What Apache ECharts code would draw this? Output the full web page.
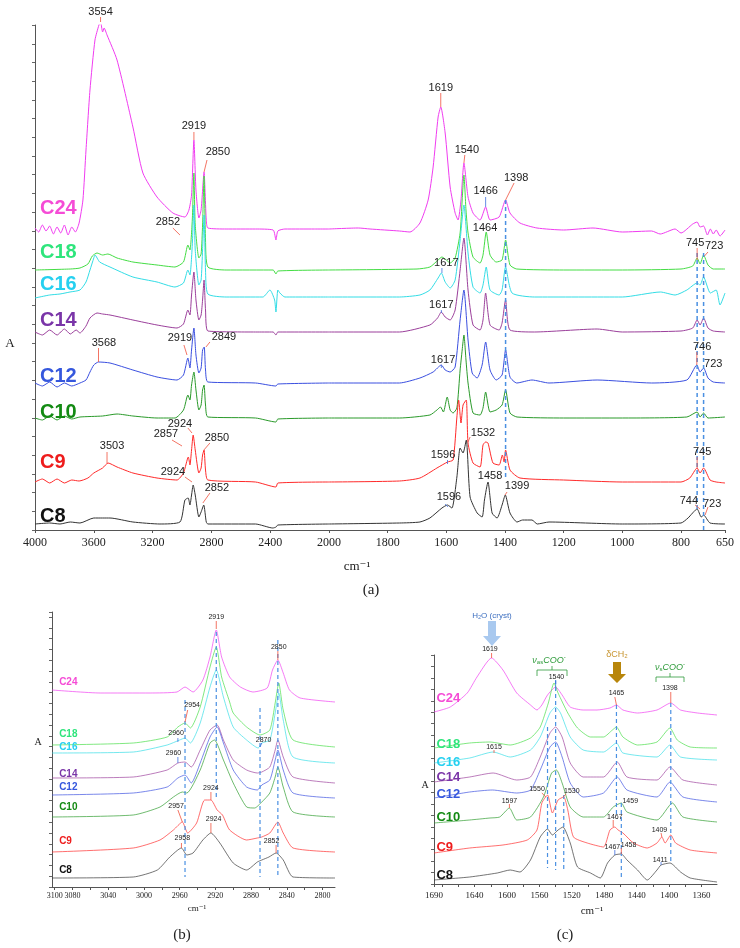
<!DOCTYPE html>
<html>
<head>
<meta charset="utf-8">
<script src="https://cdn.jsdelivr.net/npm/echarts@6/dist/echarts.min.js"></script>
<style>
  html, body { margin: 0; background: #fff; }
  #chart { width: 740px; height: 948px; }
</style>
</head>
<body>
<div id="chart"></div>
<script>
// samples, top to bottom
const samples = ['C24', 'C18', 'C16', 'C14', 'C12', 'C10', 'C9', 'C8']
const lineColors = ['#f03cf0', '#44dd44', '#33dde6', '#9b3f9b', '#3a4fe0', '#2a9a2a', '#ff2a2a', '#333333']
const labelColors = ['#f54bd6', '#2ee57c', '#26d0f0', '#7a35a8', '#3557dd', '#138a13', '#ee1c1c', '#111111']

// tick labels
const ticksA1 = [4000, 3600, 3200, 2800, 2400, 2000]
const ticksA2 = [1800, 1600, 1400, 1200, 1000, 800, 650]
const ticksB = [3100, 3080, 3040, 3000, 2960, 2920, 2880, 2840, 2800]
const ticksC = [1690, 1640, 1600, 1560, 1520, 1480, 1440, 1400, 1360]

// ---- panel (a): [cm-1, A] (stacked, arbitrary units)
const c24a = [[4000, 3.02], [3975, 2.98], [3950, 3.05], [3925, 2.99], [3900, 3.04], [3875, 2.96], [3850, 3.03], [3825, 2.97], [3800, 3.05], [3775, 2.95], [3750, 3.03], [3725, 2.98], [3700, 3.07], [3674, 3.30], [3653, 3.80], [3626, 4.40], [3592, 4.90], [3565, 5.05], [3554, 5.08], [3540, 4.98], [3530, 5.02], [3510, 4.95], [3442, 4.70], [3334, 4.03], [3266, 3.57], [3170, 3.33], [3062, 3.17], [2980, 3.13], [2953, 3.20], [2935, 3.35], [2919, 3.90], [2905, 3.40], [2885, 3.12], [2870, 3.20], [2850, 3.58], [2835, 3.10], [2824, 3.02], [2700, 3.01], [2500, 3.01], [2380, 3.00], [2361, 2.90], [2348, 2.99], [2300, 3.01], [2100, 3.01],
  [2000, 3.01], [1900, 3.02], [1860, 3.01], [1760, 2.99], [1724, 2.98], [1690, 3.07], [1662, 3.30], [1645, 3.63], [1628, 4.13], [1619, 4.23], [1604, 3.97], [1587, 3.43], [1570, 3.17], [1560, 3.10], [1550, 3.30], [1540, 3.67], [1526, 3.33], [1509, 3.17], [1485, 3.10], [1466, 3.23], [1451, 3.10], [1420, 3.13], [1398, 3.30], [1383, 3.17], [1349, 3.07], [1291, 3.02], [1200, 3.00], [1100, 3.02], [1000, 2.98], [900, 2.99], [871, 2.96], [820, 3.01], [800, 2.97], [760, 3.06], [745, 3.08], [735, 3.03], [723, 3.04], [710, 2.95], [700, 3.01], [690, 2.96], [680, 3.00], [667, 2.94], [650, 3.00]]
const c18a = [[4000, 2.60], [3760, 2.61], [3694, 2.62], [3640, 2.66], [3610, 2.74], [3578, 2.77], [3540, 2.75], [3504, 2.76], [3442, 2.72], [3334, 2.68], [3170, 2.65], [3048, 2.63], [2990, 2.68], [2960, 2.85], [2946, 2.80], [2930, 3.10], [2919, 3.57], [2910, 3.05], [2885, 2.72], [2870, 2.76], [2860, 3.05], [2850, 3.54], [2840, 2.90], [2824, 2.63], [2700, 2.60], [2380, 2.60], [2361, 2.56], [2348, 2.59],
  [2000, 2.60], [1700, 2.61], [1656, 2.63], [1628, 2.70], [1615, 2.73], [1600, 2.70], [1587, 2.67], [1570, 2.72], [1553, 2.97], [1546, 3.30], [1540, 3.55], [1533, 3.20], [1526, 2.97], [1509, 2.73], [1485, 2.67], [1475, 2.75], [1464, 2.98], [1451, 2.75], [1430, 2.68], [1410, 2.70], [1398, 2.90], [1383, 2.65], [1360, 2.61], [1200, 2.60], [1000, 2.60], [800, 2.61], [760, 2.64], [745, 2.72], [735, 2.66], [723, 2.75], [708, 2.65], [690, 2.61], [650, 2.61]]
const c16a = [[4000, 2.32], [3900, 2.35], [3830, 2.36], [3762, 2.38], [3694, 2.40], [3653, 2.48], [3626, 2.60], [3600, 2.72], [3592, 2.75], [3560, 2.68], [3490, 2.63], [3334, 2.53], [3170, 2.48], [3048, 2.43], [2990, 2.47], [2960, 2.60], [2946, 2.55], [2930, 2.85], [2919, 3.25], [2910, 2.80], [2885, 2.45], [2870, 2.50], [2860, 2.80], [2850, 3.15], [2840, 2.60], [2824, 2.36], [2700, 2.33], [2450, 2.33], [2402, 2.40], [2370, 2.30], [2361, 2.18], [2348, 2.40], [2334, 2.37], [2300, 2.33],
  [2000, 2.33], [1760, 2.33], [1690, 2.35], [1656, 2.40], [1628, 2.52], [1617, 2.57], [1604, 2.48], [1587, 2.42], [1570, 2.50], [1553, 2.90], [1540, 3.25], [1526, 2.77], [1509, 2.43], [1485, 2.37], [1475, 2.45], [1464, 2.63], [1451, 2.40], [1420, 2.35], [1410, 2.40], [1398, 2.63], [1376, 2.37], [1300, 2.33], [1000, 2.33], [870, 2.38], [820, 2.35], [780, 2.40], [745, 2.47], [735, 2.45], [723, 2.53], [700, 2.37], [680, 2.40], [667, 2.25], [650, 2.37]]
const c14a = [[4000, 1.98], [3950, 1.95], [3900, 2.00], [3850, 1.95], [3800, 2.01], [3760, 1.96], [3720, 2.00], [3694, 1.97], [3653, 2.04], [3626, 2.12], [3578, 2.17], [3540, 2.16], [3490, 2.15], [3334, 2.10], [3170, 2.05], [3034, 2.02], [2990, 2.06], [2960, 2.20], [2946, 2.15], [2935, 2.35], [2919, 2.58], [2905, 2.30], [2885, 2.10], [2870, 2.15], [2860, 2.30], [2850, 2.50], [2840, 2.20], [2824, 1.99], [2500, 1.98], [2380, 1.98], [2361, 1.95], [2348, 1.98],
  [2000, 1.98], [1760, 1.98], [1656, 2.05], [1630, 2.12], [1617, 2.18], [1604, 2.13], [1587, 2.10], [1570, 2.20], [1553, 2.60], [1540, 2.92], [1526, 2.40], [1509, 2.05], [1485, 2.00], [1475, 2.10], [1466, 2.37], [1451, 2.05], [1420, 2.00], [1410, 2.07], [1398, 2.30], [1383, 2.00], [1300, 1.98], [1086, 2.01], [1000, 1.98], [800, 1.99], [760, 2.02], [745, 2.10], [735, 2.05], [723, 2.12], [708, 2.02], [690, 1.99], [650, 1.98]]
const c12a = [[4000, 1.47], [3950, 1.44], [3900, 1.48], [3850, 1.43], [3800, 1.47], [3750, 1.44], [3694, 1.47], [3653, 1.50], [3626, 1.58], [3600, 1.65], [3568, 1.68], [3490, 1.67], [3334, 1.60], [3170, 1.53], [3034, 1.50], [2990, 1.55], [2960, 1.72], [2946, 1.62], [2935, 1.80], [2919, 2.02], [2905, 1.75], [2885, 1.57], [2870, 1.62], [2860, 1.80], [2849, 1.83], [2840, 1.60], [2824, 1.48], [2500, 1.47], [2361, 1.44], [2348, 1.46],
  [2000, 1.47], [1760, 1.47], [1690, 1.52], [1645, 1.58], [1617, 1.65], [1604, 1.60], [1587, 1.58], [1570, 1.63], [1553, 2.10], [1540, 2.40], [1526, 1.90], [1512, 1.57], [1495, 1.52], [1478, 1.65], [1466, 1.88], [1451, 1.60], [1430, 1.50], [1410, 1.55], [1398, 1.80], [1383, 1.53], [1360, 1.47], [1308, 1.50], [1250, 1.47], [1086, 1.50], [900, 1.47], [780, 1.50], [746, 1.65], [735, 1.58], [723, 1.62], [708, 1.52], [690, 1.48], [650, 1.47]]
const c10a = [[4000, 1.12], [3950, 1.10], [3900, 1.14], [3850, 1.10], [3800, 1.14], [3750, 1.11], [3694, 1.13], [3540, 1.14], [3442, 1.16], [3334, 1.14], [3170, 1.12], [3048, 1.12], [2990, 1.20], [2960, 1.35], [2946, 1.30], [2935, 1.45], [2919, 1.58], [2905, 1.40], [2885, 1.20], [2870, 1.25], [2860, 1.40], [2850, 1.45], [2840, 1.25], [2824, 1.13], [2500, 1.12], [2361, 1.08], [2348, 1.11],
  [2000, 1.12], [1760, 1.12], [1656, 1.15], [1632, 1.20], [1620, 1.23], [1610, 1.18], [1597, 1.33], [1587, 1.20], [1577, 1.17], [1564, 1.22], [1553, 1.60], [1546, 1.80], [1540, 1.95], [1533, 1.70], [1526, 1.47], [1509, 1.17], [1485, 1.15], [1475, 1.22], [1466, 1.38], [1451, 1.18], [1430, 1.20], [1410, 1.25], [1398, 1.40], [1383, 1.17], [1359, 1.13], [1200, 1.12], [1000, 1.12], [780, 1.13], [745, 1.18], [735, 1.13], [723, 1.17], [708, 1.12], [650, 1.13]]
const c9a = [[4000, 0.48], [3950, 0.51], [3900, 0.47], [3850, 0.51], [3800, 0.47], [3750, 0.50], [3700, 0.49], [3640, 0.52], [3600, 0.57], [3540, 0.62], [3503, 0.67], [3442, 0.63], [3334, 0.57], [3170, 0.52], [3034, 0.50], [2990, 0.57], [2957, 0.73], [2946, 0.65], [2935, 0.80], [2924, 0.95], [2910, 0.80], [2885, 0.57], [2870, 0.62], [2860, 0.75], [2850, 0.80], [2840, 0.60], [2824, 0.50], [2500, 0.48], [2361, 0.43], [2348, 0.47],
  [2000, 0.48], [1760, 0.49], [1690, 0.52], [1632, 0.62], [1596, 0.68], [1577, 0.70], [1564, 1.13], [1558, 1.30], [1550, 1.07], [1543, 1.25], [1532, 1.30], [1526, 0.87], [1509, 0.67], [1485, 0.63], [1475, 0.85], [1466, 0.88], [1458, 0.87], [1441, 0.67], [1420, 0.65], [1409, 0.75], [1403, 0.68], [1398, 0.80], [1383, 0.60], [1349, 0.52], [1200, 0.50], [1000, 0.48], [800, 0.48], [770, 0.52], [745, 0.62], [735, 0.57], [723, 0.62], [701, 0.50], [680, 0.48], [650, 0.47]]
const c8a = [[4000, 0.06], [3900, 0.07], [3830, 0.06], [3760, 0.08], [3694, 0.07], [3600, 0.12], [3540, 0.12], [3490, 0.12], [3334, 0.08], [3150, 0.06], [3014, 0.08], [2980, 0.30], [2958, 0.32], [2946, 0.25], [2935, 0.35], [2924, 0.45], [2910, 0.35], [2885, 0.13], [2870, 0.18], [2852, 0.25], [2835, 0.08], [2824, 0.06], [2500, 0.06], [2382, 0.02], [2360, 0.03], [2348, 0.05],
  [2000, 0.06], [1760, 0.07], [1690, 0.08], [1656, 0.12], [1615, 0.22], [1596, 0.25], [1581, 0.22], [1564, 0.53], [1553, 0.82], [1543, 0.77], [1532, 0.90], [1519, 0.33], [1495, 0.17], [1478, 0.13], [1470, 0.30], [1458, 0.48], [1444, 0.17], [1427, 0.12], [1410, 0.25], [1399, 0.35], [1383, 0.17], [1359, 0.08], [1340, 0.10], [1308, 0.10], [1290, 0.06], [1250, 0.08], [1000, 0.06], [800, 0.07], [776, 0.12], [745, 0.21], [731, 0.13], [723, 0.15], [701, 0.07], [650, 0.06]]

// ---- panel (b): CH stretching region
const c24b = [[3103, 1.97], [3049, 1.94], [2993, 1.94], [2963, 1.95], [2954, 2.00], [2945, 1.95], [2934, 2.07], [2926, 2.30], [2919, 2.57], [2913, 2.30], [2904, 2.10], [2892, 2.00], [2878, 1.95], [2862, 1.99], [2856, 2.17], [2850, 2.27], [2844, 2.14], [2837, 1.97], [2825, 1.89], [2786, 1.85]]
const c18b = [[3103, 1.42], [3012, 1.44], [2974, 1.50], [2962, 1.60], [2954, 1.64], [2948, 1.59], [2937, 1.80], [2926, 2.20], [2919, 2.40], [2913, 2.10], [2904, 1.85], [2900, 1.74], [2885, 1.60], [2870, 1.52], [2859, 1.57], [2853, 1.84], [2849, 2.04], [2844, 1.77], [2833, 1.47], [2786, 1.40]]
const c16b = [[3103, 1.34], [3012, 1.35], [2974, 1.42], [2960, 1.47], [2954, 1.49], [2948, 1.44], [2937, 1.64], [2926, 2.00], [2919, 2.17], [2911, 1.90], [2900, 1.60], [2885, 1.47], [2872, 1.39], [2868, 1.44], [2859, 1.47], [2853, 1.74], [2849, 1.94], [2844, 1.67], [2833, 1.30], [2786, 1.24]]
const c14b = [[3103, 1.09], [3012, 1.10], [2974, 1.17], [2962, 1.24], [2954, 1.25], [2947, 1.20], [2937, 1.37], [2926, 1.57], [2918, 1.62], [2911, 1.47], [2900, 1.27], [2885, 1.17], [2873, 1.14], [2868, 1.15], [2859, 1.20], [2853, 1.37], [2850, 1.47], [2844, 1.30], [2833, 1.10], [2786, 1.04]]
const c12b = [[3103, 0.92], [3012, 0.94], [2974, 1.00], [2962, 1.09], [2954, 1.12], [2947, 1.04], [2937, 1.24], [2926, 1.50], [2918, 1.60], [2911, 1.44], [2900, 1.17], [2885, 1.00], [2873, 0.97], [2868, 1.02], [2859, 1.07], [2853, 1.27], [2850, 1.37], [2844, 1.17], [2833, 0.94], [2786, 0.89]]
const c10b = [[3103, 0.70], [3012, 0.72], [2982, 0.80], [2967, 0.90], [2957, 0.95], [2952, 0.94], [2937, 1.17], [2926, 1.44], [2921, 1.47], [2911, 1.27], [2900, 1.04], [2885, 0.80], [2876, 0.79], [2868, 0.85], [2859, 0.94], [2853, 1.10], [2850, 1.20], [2844, 1.00], [2833, 0.75], [2786, 0.70]]
const c9b = [[3103, 0.35], [3012, 0.39], [2982, 0.47], [2967, 0.57], [2957, 0.65], [2951, 0.54], [2941, 0.64], [2932, 0.87], [2925, 0.87], [2918, 0.77], [2912, 0.72], [2904, 0.57], [2885, 0.47], [2873, 0.49], [2868, 0.50], [2859, 0.54], [2850, 0.65], [2844, 0.54], [2833, 0.39], [2786, 0.35]]
const c8b = [[3103, 0.09], [3012, 0.10], [2985, 0.17], [2971, 0.30], [2958, 0.39], [2952, 0.32], [2945, 0.34], [2934, 0.47], [2925, 0.54], [2915, 0.44], [2900, 0.24], [2885, 0.17], [2873, 0.25], [2868, 0.27], [2860, 0.30], [2852, 0.34], [2844, 0.27], [2833, 0.10], [2786, 0.09]]

// ---- panel (c): carboxylate region
const c24c = [[1690, 1.72], [1670, 1.77], [1649, 1.91], [1637, 2.07], [1619, 2.26], [1605, 2.14], [1588, 1.91], [1571, 1.79], [1563, 1.74], [1557, 1.79], [1550, 1.89], [1540, 1.97], [1532, 1.89], [1522, 1.77], [1506, 1.74], [1489, 1.74], [1473, 1.76], [1465, 1.79], [1457, 1.74], [1439, 1.71], [1415, 1.74], [1398, 1.81], [1386, 1.74], [1365, 1.71], [1341, 1.69]]
const c18c = [[1690, 1.36], [1646, 1.41], [1621, 1.42], [1596, 1.39], [1571, 1.46], [1559, 1.57], [1549, 1.81], [1542, 2.01], [1537, 1.91], [1525, 1.71], [1513, 1.56], [1497, 1.47], [1481, 1.47], [1470, 1.54], [1465, 1.57], [1457, 1.47], [1439, 1.39], [1415, 1.42], [1399, 1.56], [1390, 1.44], [1374, 1.37], [1341, 1.36]]
const c16c = [[1690, 1.21], [1646, 1.26], [1617, 1.32], [1596, 1.27], [1571, 1.34], [1559, 1.47], [1547, 1.71], [1540, 1.77], [1534, 1.71], [1522, 1.47], [1506, 1.34], [1481, 1.32], [1465, 1.41], [1457, 1.31], [1415, 1.27], [1399, 1.39], [1386, 1.27], [1341, 1.24]]
const c14c = [[1690, 1.02], [1646, 1.07], [1617, 1.11], [1588, 1.04], [1571, 1.07], [1559, 1.27], [1547, 1.51], [1540, 1.57], [1532, 1.47], [1522, 1.21], [1506, 1.07], [1481, 1.07], [1464, 1.22], [1452, 1.07], [1415, 1.04], [1399, 1.17], [1383, 1.04], [1341, 0.99]]
const c12c = [[1690, 0.86], [1646, 0.92], [1618, 0.94], [1588, 0.91], [1571, 0.94], [1559, 1.14], [1547, 1.37], [1540, 1.42], [1532, 1.27], [1522, 1.01], [1506, 0.87], [1481, 0.91], [1464, 1.07], [1452, 0.94], [1415, 0.87], [1399, 1.02], [1383, 0.87], [1341, 0.82]]
const c10c = [[1690, 0.61], [1646, 0.64], [1621, 0.66], [1609, 0.67], [1597, 0.76], [1588, 0.64], [1571, 0.67], [1555, 0.87], [1545, 1.11], [1539, 1.14], [1532, 1.01], [1522, 0.77], [1506, 0.67], [1481, 0.67], [1469, 0.77], [1459, 0.81], [1452, 0.72], [1415, 0.64], [1396, 0.81], [1383, 0.67], [1341, 0.62]]
const c9c = [[1690, 0.31], [1646, 0.36], [1605, 0.39], [1575, 0.44], [1563, 0.54], [1557, 0.81], [1550, 0.89], [1544, 0.71], [1537, 0.84], [1530, 0.87], [1525, 0.74], [1518, 0.47], [1501, 0.41], [1481, 0.37], [1473, 0.54], [1467, 0.57], [1463, 0.54], [1457, 0.51], [1444, 0.41], [1427, 0.36], [1415, 0.41], [1409, 0.47], [1405, 0.41], [1398, 0.49], [1392, 0.41], [1374, 0.34], [1341, 0.31]]
const c8c = [[1690, 0.04], [1646, 0.07], [1612, 0.11], [1596, 0.14], [1584, 0.12], [1571, 0.24], [1559, 0.47], [1550, 0.55], [1544, 0.49], [1537, 0.54], [1531, 0.57], [1522, 0.41], [1513, 0.17], [1497, 0.11], [1485, 0.06], [1476, 0.21], [1467, 0.29], [1459, 0.30], [1452, 0.24], [1439, 0.14], [1427, 0.04], [1415, 0.14], [1410, 0.19], [1399, 0.21], [1386, 0.12], [1374, 0.06], [1341, 0.02]]

// peak labels: [peak cm-1, peak A, leader end cm-1, leader end A, text cm-1, text A, text, leader colour]
const peaksA = [
  [3554, 5.08, 3554, 5.13, 3554, 5.18, '3554', 'r'], [2919, 3.90, 2919, 3.98, 2919, 4.04, '2919', 'r'],
  [2850, 3.58, 2830, 3.70, 2756, 3.78, '2850', 'r'], [3014, 2.95, 3062, 3.02, 3096, 3.08, '2852', 'r'],
  [3568, 1.68, 3568, 1.82, 3531, 1.87, '3568', 'r'], [2966, 1.75, 2987, 1.85, 3014, 1.92, '2919', 'r'],
  [2837, 1.83, 2810, 1.88, 2715, 1.93, '2849', 'r'], [2932, 0.97, 2960, 1.02, 3014, 1.06, '2924', 'r'],
  [3000, 0.84, 3068, 0.90, 3109, 0.96, '2857', 'r'], [2851, 0.80, 2810, 0.87, 2762, 0.92, '2850', 'r'],
  [3510, 0.67, 3510, 0.78, 3476, 0.84, '3503', 'r'], [2932, 0.48, 2980, 0.53, 3062, 0.58, '2924', 'r'],
  [2858, 0.27, 2810, 0.37, 2762, 0.42, '2852', 'r'],
  [1619, 4.23, 1619, 4.37, 1619, 4.42, '1619', 'r'], [1540, 3.67, 1537, 3.75, 1530, 3.80, '1540', 'r'],
  [1466, 3.23, 1466, 3.33, 1466, 3.39, '1466', 'b'], [1398, 3.30, 1369, 3.47, 1362, 3.52, '1398', 'r'],
  [1464, 2.98, 1464, 2.98, 1468, 3.02, '1464', 'r'], [745, 2.70, 745, 2.82, 752, 2.87, '745', 'r'],
  [720, 2.74, 708, 2.78, 687, 2.84, '723', 'r'], [1615, 2.57, 1615, 2.62, 1600, 2.67, '1617', 'b'],
  [1617, 2.17, 1617, 2.20, 1617, 2.25, '1617', 'b'], [1617, 1.62, 1617, 1.65, 1611, 1.70, '1617', 'b'],
  [746, 1.65, 746, 1.78, 728, 1.83, '746', 'r'], [723, 1.62, 723, 1.62, 690, 1.66, '723', 'r'],
  [1526, 0.88, 1519, 0.93, 1475, 0.97, '1532', 'r'], [1596, 0.66, 1596, 0.70, 1611, 0.75, '1596', 'b'],
  [745, 0.62, 745, 0.73, 728, 0.78, '745', 'r'], [1458, 0.48, 1458, 0.48, 1451, 0.54, '1458', 'r'],
  [1400, 0.35, 1393, 0.38, 1359, 0.44, '1399', 'r'], [1594, 0.23, 1604, 0.26, 1591, 0.33, '1596', 'b'],
  [735, 0.21, 752, 0.25, 773, 0.29, '744', 'r'], [718, 0.15, 708, 0.23, 694, 0.26, '723', 'r']
]
const peaksB = [
  [2919, 2.58, 2919, 2.66, 2919, 2.70, '2919', 'r'], [2850, 2.27, 2850, 2.36, 2849, 2.40, '2850', 'r'],
  [2954, 1.65, 2951, 1.77, 2946, 1.82, '2954', 'r'], [2962, 1.45, 2962, 1.49, 2964, 1.54, '2960', 'b'],
  [2870, 1.40, 2868, 1.44, 2866, 1.47, '2870', 'b'], [2962, 1.24, 2962, 1.30, 2967, 1.34, '2960', 'b'],
  [2925, 0.87, 2925, 0.95, 2925, 0.99, '2924', 'r'], [2957, 0.65, 2962, 0.77, 2964, 0.81, '2957', 'r'],
  [2925, 0.54, 2925, 0.64, 2922, 0.68, '2924', 'r'], [2958, 0.39, 2958, 0.44, 2957, 0.49, '2958', 'r'],
  [2852, 0.34, 2852, 0.42, 2857, 0.46, '2852', 'r']
]
const peaksC = [
  [1619, 2.26, 1619, 2.31, 1621, 2.35, '1619', 'r'], [1540, 1.97, 1540, 2.03, 1539, 2.07, '1540', 'b'],
  [1465, 1.79, 1467, 1.87, 1465, 1.91, '1465', 'r'], [1398, 1.81, 1398, 1.92, 1399, 1.96, '1398', 'r'],
  [1616, 1.31, 1616, 1.34, 1616, 1.37, '1615', 'r'], [1597, 0.76, 1597, 0.80, 1597, 0.83, '1597', 'r'],
  [1552, 0.87, 1557, 0.91, 1563, 0.95, '1550', 'r'], [1531, 0.87, 1527, 0.90, 1520, 0.93, '1530', 'r'],
  [1459, 0.81, 1459, 0.81, 1448, 0.83, '1459', 'r'], [1469, 0.57, 1469, 0.64, 1467, 0.67, '1467', 'r'],
  [1409, 0.47, 1410, 0.51, 1412, 0.54, '1409', 'r'], [1467, 0.29, 1467, 0.34, 1470, 0.37, '1467', 'b'],
  [1459, 0.30, 1459, 0.36, 1450, 0.39, '1458', 'r'], [1410, 0.19, 1410, 0.22, 1411, 0.24, '1411', 'b']
]
// dashed guide lines: [cm-1, A top, A bottom]
const guidesA = [[1398, 3.30, 0.52], [745, 2.77, 0.20], [723, 2.77, 0.0]]
const guidesB = [[2954, 1.87, 0.10], [2919, 2.55, 0.87], [2870, 1.79, 0.10], [2850, 2.47, 0.10]]
const guidesC = [[1550, 1.57, 0.16], [1540, 2.04, 0.14], [1530, 0.89, 0.14], [1465, 1.79, 0.67], [1459, 0.81, 0.07], [1398, 1.81, 0.21]]

// where the sample names sit: [cm-1, A] per sample
const namePosA = [[3966, 3.22], [3966, 2.78], [3966, 2.46], [3966, 2.10], [3966, 1.54], [3966, 1.18], [3966, 0.68], [3966, 0.14]]
const namePosB = [[3095, 2.05], [3095, 1.53], [3095, 1.40], [3095, 1.13], [3095, 1.00], [3095, 0.80], [3095, 0.46], [3095, 0.17]]
const namePosC = [[1687, 1.86], [1687, 1.40], [1687, 1.22], [1687, 1.07], [1687, 0.90], [1687, 0.67], [1687, 0.37], [1687, 0.09]]

const panelA = [c24a, c18a, c16a, c14a, c12a, c10a, c9a, c8a]
const panelB = [c24b, c18b, c16b, c14b, c12b, c10b, c9b, c8b]
const panelC = [c24c, c18c, c16c, c14c, c12c, c10c, c9c, c8c]

const RED = '#f0503c'
const BLUE = '#3f6fe0'
const SERIF = '"Liberation Serif", "DejaVu Serif", serif'
const SANS = '"Liberation Sans", Arial, sans-serif'

const chart = echarts.init(document.getElementById('chart'))

function xAxisOf(grid, min, max, labels, ticks, size, margin) {
  return {
    type: 'value', gridIndex: grid, min, max, inverse: true,
    axisLine: { lineStyle: { color: '#555', width: 1 } },
    axisTick: { length: 3, customValues: ticks, lineStyle: { color: '#555' } },
    axisLabel: { customValues: labels, formatter: v => String(v), color: '#222', fontFamily: SERIF, fontSize: size, margin },
    splitLine: { show: false }
  }
}
function yAxisOf(grid, max, interval, show) {
  return {
    type: 'value', gridIndex: grid, min: 0, max, interval, show,
    axisLine: { show: true, lineStyle: { color: '#555', width: 1 } },
    axisTick: { show: true, length: 3, lineStyle: { color: '#666' } },
    axisLabel: { show: false },
    splitLine: { show: false }
  }
}

function peakSeries(list, idx, fontSize) {
  return {
    type: 'custom', xAxisIndex: idx, yAxisIndex: idx, z: 20, silent: true,
    data: list.map(d => [d[0], d[1]]),
    renderItem(params, api) {
      const d = list[params.dataIndex]
      const p = api.coord([d[0], d[1]])
      const e = api.coord([d[2], d[3]])
      const t = api.coord([d[4], d[5]])
      return {
        type: 'group',
        children: [
          { type: 'line', shape: { x1: p[0], y1: p[1], x2: e[0], y2: e[1] }, style: { stroke: d[7] === 'b' ? BLUE : RED, lineWidth: 0.8 } },
          { type: 'text', x: t[0], y: t[1], style: { text: d[6], fill: '#222', font: fontSize + 'px ' + SANS, align: 'center', verticalAlign: 'middle' } }
        ]
      }
    }
  }
}

function guideSeries(list, idx, width) {
  return {
    type: 'custom', xAxisIndex: idx, yAxisIndex: idx, z: 15, silent: true,
    data: list.map(d => [d[0], d[1]]),
    renderItem(params, api) {
      const d = list[params.dataIndex]
      const a = api.coord([d[0], d[1]])
      const b = api.coord([d[0], d[2]])
      return { type: 'line', shape: { x1: a[0], y1: a[1], x2: b[0], y2: b[1] }, style: { stroke: '#4a90e2', lineWidth: width, lineDash: [4, 3] } }
    }
  }
}

function nameSeries(list, idx, fontSize) {
  return {
    type: 'custom', xAxisIndex: idx, yAxisIndex: idx, z: 25, silent: true,
    data: list,
    renderItem(params, api) {
      const p = api.coord([api.value(0), api.value(1)])
      return {
        type: 'text', x: p[0], y: p[1],
        style: { text: samples[params.dataIndex], fill: labelColors[params.dataIndex], font: 'bold ' + fontSize + 'px ' + SANS, align: 'left', verticalAlign: 'middle' }
      }
    }
  }
}

const series = []
samples.forEach((s, i) => {
  const base = { type: 'line', name: s, showSymbol: false, smooth: 0.2, silent: true, color: lineColors[i] }
  series.push({ ...base, xAxisIndex: 0, yAxisIndex: 0, lineStyle: { width: 1, color: lineColors[i] }, data: panelA[i].filter(p => p[0] >= 2000) })
  series.push({ ...base, xAxisIndex: 1, yAxisIndex: 1, lineStyle: { width: 1, color: lineColors[i] }, data: panelA[i].filter(p => p[0] <= 2000) })
  series.push({ ...base, xAxisIndex: 2, yAxisIndex: 2, lineStyle: { width: 0.8, color: lineColors[i], opacity: 0.85 }, data: panelB[i] })
  series.push({ ...base, xAxisIndex: 3, yAxisIndex: 3, lineStyle: { width: 0.8, color: lineColors[i], opacity: 0.85 }, data: panelC[i] })
})
series.push(guideSeries(guidesA.filter(d => d[0] >= 2000), 0, 1.5))
series.push(guideSeries(guidesA.filter(d => d[0] < 2000), 1, 1.5))
series.push(guideSeries(guidesB, 2, 1.2))
series.push(guideSeries(guidesC, 3, 1.2))
series.push(peakSeries(peaksA.filter(d => d[0] >= 2000), 0, 11))
series.push(peakSeries(peaksA.filter(d => d[0] < 2000), 1, 11))
series.push(peakSeries(peaksB, 2, 7))
series.push(peakSeries(peaksC, 3, 7))
series.push(nameSeries(namePosA, 0, 20))
series.push(nameSeries(namePosB, 2, 10))
series.push(nameSeries(namePosC, 3, 13))

const graphic = [
  { type: 'text', x: 10, y: 344, style: { text: 'A', font: '13px ' + SERIF, fill: '#222', align: 'center', verticalAlign: 'middle' } },
  { type: 'text', x: 38, y: 742, style: { text: 'A', font: '10px ' + SERIF, fill: '#222', align: 'center', verticalAlign: 'middle' } },
  { type: 'text', x: 425, y: 785, style: { text: 'A', font: '10px ' + SERIF, fill: '#222', align: 'center', verticalAlign: 'middle' } },
  { type: 'text', x: 357, y: 567, style: { text: 'cm⁻¹', font: '13px ' + SERIF, fill: '#222', align: 'center', verticalAlign: 'middle' } },
  { type: 'text', x: 197, y: 909, style: { text: 'cm⁻¹', font: '9px ' + SERIF, fill: '#222', align: 'center', verticalAlign: 'middle' } },
  { type: 'text', x: 592, y: 911, style: { text: 'cm⁻¹', font: '11px ' + SERIF, fill: '#222', align: 'center', verticalAlign: 'middle' } },
  { type: 'text', x: 371, y: 590, style: { text: '(a)', font: '15px ' + SERIF, fill: '#222', align: 'center', verticalAlign: 'middle' } },
  { type: 'text', x: 182, y: 935, style: { text: '(b)', font: '15px ' + SERIF, fill: '#222', align: 'center', verticalAlign: 'middle' } },
  { type: 'text', x: 565, y: 935, style: { text: '(c)', font: '15px ' + SERIF, fill: '#222', align: 'center', verticalAlign: 'middle' } },
  // panel (c) band assignments
  { type: 'text', x: 492, y: 616, style: { text: 'H₂O (cryst)', font: '8px ' + SANS, fill: '#3d6fc0', align: 'center', verticalAlign: 'middle' } },
  { type: 'polygon', shape: { points: [[488, 621], [496, 621], [496, 636], [501, 636], [492, 646], [483, 636], [488, 636]] }, style: { fill: '#a9c9ef' } },
  { type: 'text', x: 549, y: 660, style: { text: '{i|ν}{s|as}{i|COO}{p|-}', align: 'center', verticalAlign: 'middle', rich: { i: { fontSize: 9, fontFamily: SANS, fontStyle: 'italic', fill: '#2e9b3a' }, s: { fontSize: 6, fontFamily: SANS, fill: '#2e9b3a', padding: [5, 0, 0, 0] }, p: { fontSize: 6, fontFamily: SANS, fill: '#2e9b3a', padding: [0, 0, 6, 0] } } } },
  { type: 'polyline', shape: { points: [[537, 676], [537, 670], [567, 670], [567, 676]] }, style: { stroke: '#2e9b3a', lineWidth: 0.8, fill: null } },
  { type: 'line', shape: { x1: 552, y1: 670, x2: 552, y2: 666 }, style: { stroke: '#2e9b3a', lineWidth: 0.8 } },
  { type: 'text', x: 617, y: 655, style: { text: 'δCH₂', font: '9px ' + SANS, fill: '#c89632', align: 'center', verticalAlign: 'middle' } },
  { type: 'polygon', shape: { points: [[613, 662], [621, 662], [621, 674], [626, 674], [617, 683], [608, 674], [613, 674]] }, style: { fill: '#b8860b' } },
  { type: 'text', x: 670, y: 667, style: { text: '{i|ν}{s|s}{i|COO}{p|-}', align: 'center', verticalAlign: 'middle', rich: { i: { fontSize: 9, fontFamily: SANS, fontStyle: 'italic', fill: '#2e9b3a' }, s: { fontSize: 6, fontFamily: SANS, fill: '#2e9b3a', padding: [5, 0, 0, 0] }, p: { fontSize: 6, fontFamily: SANS, fill: '#2e9b3a', padding: [0, 0, 6, 0] } } } },
  { type: 'polyline', shape: { points: [[656, 682], [656, 677], [684, 677], [684, 682]] }, style: { stroke: '#2e9b3a', lineWidth: 0.8, fill: null } },
  { type: 'line', shape: { x1: 670, y1: 677, x2: 670, y2: 673 }, style: { stroke: '#2e9b3a', lineWidth: 0.8 } }
]

chart.setOption({
  animation: false,
  backgroundColor: '#fff',
  grid: [
    { left: 35, top: 25, width: 294, height: 505 },
    { left: 329, top: 25, width: 396, height: 505 },
    { left: 52, top: 612, width: 283, height: 275 },
    { left: 434, top: 655, width: 283, height: 229 }
  ],
  xAxis: [
    xAxisOf(0, 2000, 4000, ticksA1, ticksA1, 12, 7),
    xAxisOf(1, 650, 2000, ticksA2, ticksA2, 12, 7),
    xAxisOf(2, 2786, 3103, ticksB, [3100, 3080, 3060, 3040, 3020, 3000, 2980, 2960, 2940, 2920, 2900, 2880, 2860, 2840, 2820, 2800], 8, 5),
    xAxisOf(3, 1341, 1690, ticksC, [1690, 1680, 1660, 1640, 1620, 1600, 1580, 1560, 1540, 1520, 1500, 1480, 1460, 1440, 1420, 1400, 1380, 1360], 9, 7)
  ],
  yAxis: [
    yAxisOf(0, 5.05, 0.187, true),
    yAxisOf(1, 5.05, 0.187, false),
    yAxisOf(2, 2.75, 0.108, true),
    yAxisOf(3, 2.29, 0.1145, true)
  ],
  graphic,
  series
})
</script>
</body>
</html>
